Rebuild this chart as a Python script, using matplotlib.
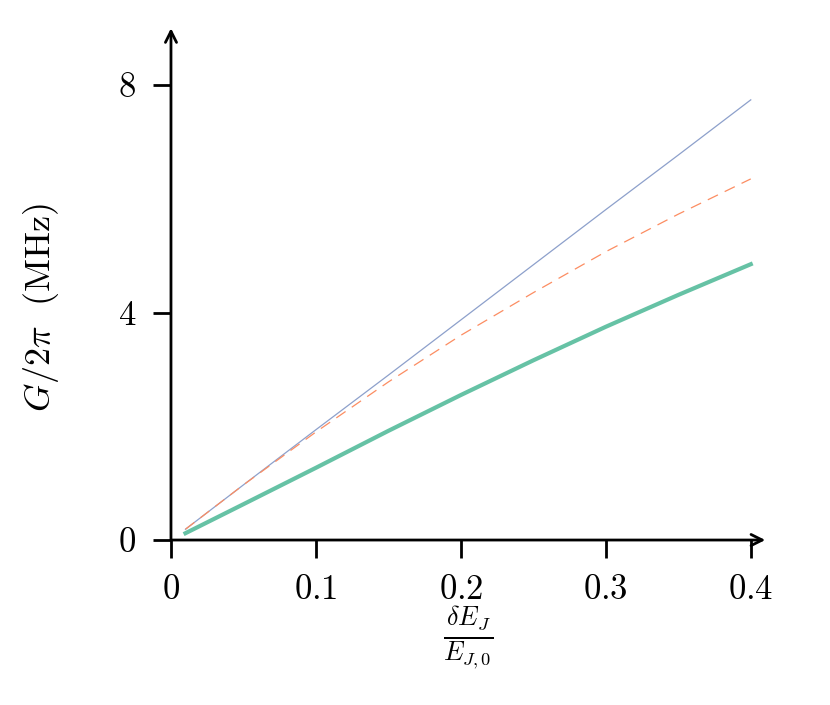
import numpy as np
import matplotlib
matplotlib.use("Agg")
import matplotlib.pyplot as plt

plt.rcParams['mathtext.fontset'] = 'cm'
plt.rcParams['font.family'] = 'serif'
plt.rcParams['font.serif'] = ['cmr10', 'DejaVu Serif']
plt.rcParams['axes.unicode_minus'] = False

# values
dEJ = [0.01, 0.05, 0.1, 0.15, 0.2, 0.25, 0.3, 0.35, 0.4]
G_blue = [0.19, 0.97, 1.94, 2.90, 3.87, 4.84, 5.81, 6.77, 7.74]
G_orange = [0.19, 0.97, 1.90, 2.78, 3.60, 4.35, 5.07, 5.73, 6.35]
G_green = [0.12, 0.63, 1.27, 1.92, 2.55, 3.16, 3.75, 4.31, 4.85]

xticks = [0, 0.1, 0.2, 0.3, 0.4]
xticklabels = ['$0$', '$0.1$', '$0.2$', '$0.3$', '$0.4$']
yticks = [0, 4, 8]
yticklabels = ['$0$', '$4$', '$8$']

fig = plt.figure(figsize=(8.3, 7.05), dpi=100)
ax = fig.add_axes([0.206, 0.234, 0.716, 0.726])

ax.plot(dEJ, G_blue, color='#8da0cb', lw=0.9)
ax.plot(dEJ, G_orange, color='#fc8d62', lw=0.9, ls=(0, (9, 6)))
ax.plot(dEJ, G_green, color='#66c2a5', lw=3.0)

ax.set_xlim(0, 0.41)
ax.set_ylim(0, 9)

for s in ['top', 'right', 'left', 'bottom']:
    ax.spines[s].set_visible(False)

# axes with arrow heads
ax.annotate('', xy=(1.0, 0), xytext=(0, 0), xycoords='axes fraction',
            arrowprops=dict(arrowstyle='->', lw=2.0, color='black',
                            shrinkA=0, shrinkB=0, mutation_scale=20))
ax.annotate('', xy=(0, 1.0), xytext=(0, 0), xycoords='axes fraction',
            arrowprops=dict(arrowstyle='->', lw=2.0, color='black',
                            shrinkA=0, shrinkB=0, mutation_scale=20))

ax.set_xticks(xticks)
ax.set_xticklabels(xticklabels)
ax.set_yticks(yticks)
ax.set_yticklabels(yticklabels)
ax.tick_params(direction='out', length=13, width=2.0, labelsize=25, pad=12)

ax.set_xlabel(r'$\frac{\delta E_J}{E_{J,0}}$', fontsize=27)
ax.xaxis.set_label_coords(0.5, -0.127)
ax.set_ylabel(r'$G/2\pi\ \ \mathrm{(MHz)}$', fontsize=26)
ax.yaxis.set_label_coords(-0.185, 0.455)

fig.savefig('out.png', dpi=100)
